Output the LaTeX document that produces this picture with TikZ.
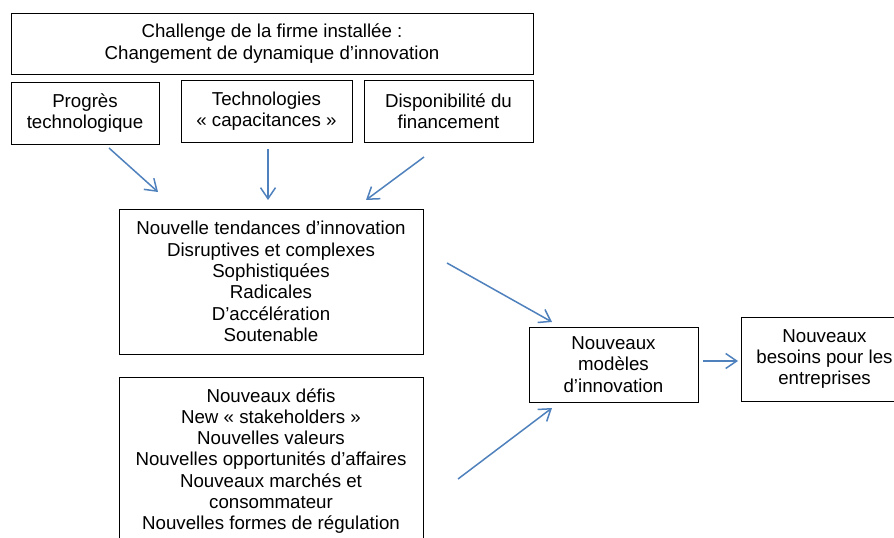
\documentclass[tikz,border=0pt]{standalone}
\usepackage{fontspec}
\setmainfont{Liberation Sans}
\usetikzlibrary{arrows.meta}
\definecolor{arrowblue}{RGB}{79,129,189}
\begin{document}
\begin{tikzpicture}[x=1pt,y=-1pt,
  box/.style={draw=black, line width=1pt, align=center, inner sep=0pt,
    font=\fontsize{18.7}{21.3}\selectfont},
  conn/.style={draw=arrowblue, line width=1.5pt,
    -{Straight Barb[length=11pt,width=15pt,line width=1.5pt]}}]
\useasboundingbox (0,0) rectangle (894,538);
\fill[white] (0,0) rectangle (894,538);
\clip (0,0) rectangle (894,538);

\node[box, minimum width=522, minimum height=61] (top) at (272,43.5)
  {Challenge de la firme installée :\\Changement de dynamique d’innovation};
\node[box, minimum width=148, minimum height=62] (prog) at (85,113)
  {Progrès\\technologique};
\node[box, minimum width=171, minimum height=62] (tech) at (266.5,111)
  {Technologies\\« capacitances »};
\node[box, minimum width=169, minimum height=62] (fin) at (448.5,111)
  {Disponibilité du\\financement};
\node[box, minimum width=304, minimum height=145] (tend) at (271,281.5)
  {Nouvelle tendances d’innovation\\Disruptives et complexes\\Sophistiquées\\Radicales\\D’accélération\\Soutenable};
\node[box, minimum width=304, minimum height=168] (defis) at (271,461)
  {Nouveaux défis\\New « stakeholders »\\Nouvelles valeurs\\Nouvelles opportunités d’affaires\\Nouveaux marchés et\\consommateur\\Nouvelles formes de régulation};
\node[box, minimum width=169, minimum height=75] (mod) at (613.5,364.5)
  {Nouveaux\\modèles\\d’innovation};
\node[box, minimum width=167, minimum height=84] (bes) at (824.5,359)
  {Nouveaux\\besoins pour les\\entreprises};

\coordinate (a1s) at (109,148); \coordinate (a1e) at (158,192);
\coordinate (a2s) at (268,149); \coordinate (a2e) at (268,200);
\coordinate (a3s) at (424,157); \coordinate (a3e) at (366,200);
\coordinate (a4s) at (447,263); \coordinate (a4e) at (552,322);
\coordinate (a5s) at (458,479); \coordinate (a5e) at (552,408);
\coordinate (a6s) at (703,361); \coordinate (a6e) at (738,361);

\draw[conn] (a1s) -- (a1e);
\draw[conn] (a2s) -- (a2e);
\draw[conn] (a3s) -- (a3e);
\draw[conn] (a4s) -- (a4e);
\draw[conn] (a5s) -- (a5e);
\draw[conn] (a6s) -- (a6e);
\end{tikzpicture}
\end{document}
